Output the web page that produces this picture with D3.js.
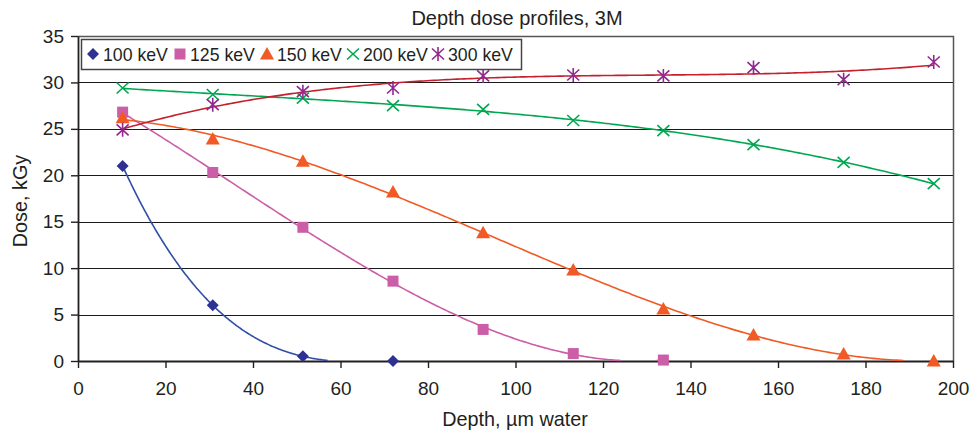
<!DOCTYPE html>
<html>
<head>
<meta charset="utf-8">
<script src="https://cdn.jsdelivr.net/npm/d3@7"></script>
<style>
  html, body { margin: 0; padding: 0; background: #fff; }
  svg { display: block; font-family: "Liberation Sans", Arial, sans-serif; }
</style>
</head>
<body>
<svg id="chart" width="971" height="433"></svg>
<script>
// ---- Data ----
const title = "Depth dose profiles, 3M";
const xLabel = "Depth, \u00b5m water";
const yLabel = "Dose, kGy";
const xTicks = [0, 20, 40, 60, 80, 100, 120, 140, 160, 180, 200];
const yTicks = [0, 5, 10, 15, 20, 25, 30, 35];
const depths = [10.2, 30.8, 51.4, 72.0, 92.6, 113.2, 133.8, 154.4, 175.0, 195.6];

const dose100 = [21.0, 6.0, 0.5, 0.0];
const dose125 = [26.8, 20.3, 14.4, 8.6, 3.4, 0.8, 0.1];
const dose150 = [26.2, 23.9, 21.5, 18.2, 13.8, 9.8, 5.6, 2.8, 0.75, 0.0];
const dose200 = [29.4, 28.7, 28.3, 27.5, 27.1, 25.9, 24.8, 23.3, 21.4, 19.1];
const dose300 = [24.9, 27.6, 29.0, 29.4, 30.7, 30.8, 30.7, 31.6, 30.3, 32.2];

const seriesNames = ["100 keV", "125 keV", "150 keV", "200 keV", "300 keV"];
const seriesValues = [dose100, dose125, dose150, dose200, dose300];
const markerTypes = ["diamond", "square", "triangle", "x", "star"];
const markerColors = ["#2e3192", "#cc5ea7", "#f15a24", "#00a651", "#92278f"];
const lineColors = ["#2f4fa8", "#cc5ea7", "#f15a24", "#00a651", "#c4202e"];

// ---- Layout ----
const svg = d3.select("#chart");
const L = 78, R = 953, T = 36, B = 361;
const x = d3.scaleLinear().domain([0, 200]).range([L, R]);
const y = d3.scaleLinear().domain([0, 35]).range([B, T]);
const textColor = "#231f20";

svg.append("rect").attr("x", L).attr("y", T).attr("width", R - L).attr("height", B - T)
  .attr("fill", "#fff");

// Horizontal gridlines
svg.append("g").selectAll("line").data(yTicks.filter(v => v > 0 && v < 35)).join("line")
  .attr("x1", L).attr("x2", R)
  .attr("y1", d => Math.round(y(d)) + 0.5).attr("y2", d => Math.round(y(d)) + 0.5)
  .attr("stroke", "#1a1a1a").attr("stroke-width", 1.2);

// Plot frame (top and right)
svg.append("path")
  .attr("d", `M${L},${T + 0.5}H${R + 0.5}V${B}`)
  .attr("fill", "none").attr("stroke", "#555").attr("stroke-width", 1.5);

// Axes
const yAxis = d3.axisLeft(y).tickValues(yTicks).tickSize(7).tickSizeOuter(0).tickPadding(7);
const gy = svg.append("g").attr("transform", `translate(${L},0)`).call(yAxis);
const xAxis = d3.axisBottom(x).tickValues(xTicks).tickSize(7).tickSizeOuter(0).tickPadding(14);
const gx = svg.append("g").attr("transform", `translate(0,${B})`).call(xAxis);
[gx, gy].forEach(g => {
  g.select(".domain").attr("stroke", "#231f20").attr("stroke-width", 1.8);
  g.selectAll(".tick line").attr("stroke", "#231f20").attr("stroke-width", 1.4);
  g.selectAll(".tick text").attr("fill", textColor)
    .style("font-size", "19px").style("font-family", '"Liberation Sans", Arial, sans-serif');
});

// ---- Polynomial (order 3) trendlines, least squares on the data ----
function polyFit(xs, ys, order) {
  const n = order + 1;
  const A = Array.from({length: n}, () => new Array(n + 1).fill(0));
  xs.forEach((xv, k) => {
    const u = xv / 100;
    for (let i = 0; i < n; i++) {
      for (let j = 0; j < n; j++) A[i][j] += Math.pow(u, i + j);
      A[i][n] += ys[k] * Math.pow(u, i);
    }
  });
  for (let c = 0; c < n; c++) {
    let p = c;
    for (let r = c + 1; r < n; r++) if (Math.abs(A[r][c]) > Math.abs(A[p][c])) p = r;
    [A[c], A[p]] = [A[p], A[c]];
    for (let r = 0; r < n; r++) {
      if (r === c) continue;
      const f = A[r][c] / A[c][c];
      for (let k = c; k <= n; k++) A[r][k] -= f * A[c][k];
    }
  }
  const coef = A.map((row, i) => row[n] / row[i]);
  return xv => { const u = xv / 100; let s = 0; for (let i = 0; i < n; i++) s += coef[i] * Math.pow(u, i); return s; };
}

svg.append("clipPath").attr("id", "plotclip").append("rect")
  .attr("x", L).attr("y", T).attr("width", R - L).attr("height", B - T + 0.5);

const linesG = svg.append("g").attr("clip-path", "url(#plotclip)");
seriesValues.forEach((vals, si) => {
  const xs = depths.slice(0, vals.length);
  const f = polyFit(xs, vals, 3);
  const x0 = xs[0], x1 = xs[xs.length - 1];
  const pts = d3.range(0, 241).map(i => { const xv = x0 + (x1 - x0) * i / 240; return [xv, f(xv)]; });
  const line = d3.line().defined(d => d[1] >= 0.05).x(d => x(d[0])).y(d => y(d[1]));
  linesG.append("path").datum(pts).attr("d", line)
    .attr("fill", "none").attr("stroke", lineColors[si]).attr("stroke-width", 1.6);
});

// ---- Markers ----
function drawMarker(g, type, color, cx, cy) {
  if (type === "diamond") {
    g.append("path").attr("d", `M${cx},${cy - 6}L${cx + 6},${cy}L${cx},${cy + 6}L${cx - 6},${cy}Z`).attr("fill", color);
  } else if (type === "square") {
    g.append("rect").attr("x", cx - 5.5).attr("y", cy - 5.5).attr("width", 11).attr("height", 11).attr("fill", color);
  } else if (type === "triangle") {
    g.append("path").attr("d", `M${cx},${cy - 7}L${cx + 7},${cy + 5.5}L${cx - 7},${cy + 5.5}Z`).attr("fill", color);
  } else if (type === "x") {
    g.append("path").attr("d", `M${cx - 6},${cy - 5.5}L${cx + 6},${cy + 5.5}M${cx - 6},${cy + 5.5}L${cx + 6},${cy - 5.5}`)
      .attr("stroke", color).attr("stroke-width", 1.6).attr("fill", "none");
  } else if (type === "star") {
    g.append("path").attr("d", `M${cx - 6},${cy - 5.5}L${cx + 6},${cy + 5.5}M${cx - 6},${cy + 5.5}L${cx + 6},${cy - 5.5}M${cx},${cy - 7}L${cx},${cy + 7}`)
      .attr("stroke", color).attr("stroke-width", 1.6).attr("fill", "none");
  }
}
const markersG = svg.append("g");
seriesValues.forEach((vals, si) => {
  vals.forEach((v, i) => drawMarker(markersG, markerTypes[si], markerColors[si], x(depths[i]), y(v)));
});

// ---- Legend ----
const lg = svg.append("g");
lg.append("rect").attr("x", 81.5).attr("y", 39.5).attr("width", 440).attr("height", 30)
  .attr("fill", "#fff").attr("stroke", "#444").attr("stroke-width", 1.5);
const legendMarkerX = [93, 180, 267, 353, 438];
seriesNames.forEach((name, i) => {
  drawMarker(lg, markerTypes[i], markerColors[i], legendMarkerX[i], 54);
  lg.append("text").attr("x", legendMarkerX[i] + 10).attr("y", 60.5)
    .attr("fill", textColor).style("font-size", "17.7px").text(name);
});

// ---- Titles ----
svg.append("text").attr("x", 517).attr("y", 25).attr("text-anchor", "middle")
  .attr("fill", textColor).style("font-size", "20px").text(title);
svg.append("text").attr("x", 515).attr("y", 426).attr("text-anchor", "middle")
  .attr("fill", textColor).style("font-size", "19.8px").text(xLabel);
svg.append("text").attr("transform", "translate(27,201) rotate(-90)").attr("text-anchor", "middle")
  .attr("fill", textColor).style("font-size", "19.8px").text(yLabel);
</script>
</body>
</html>
